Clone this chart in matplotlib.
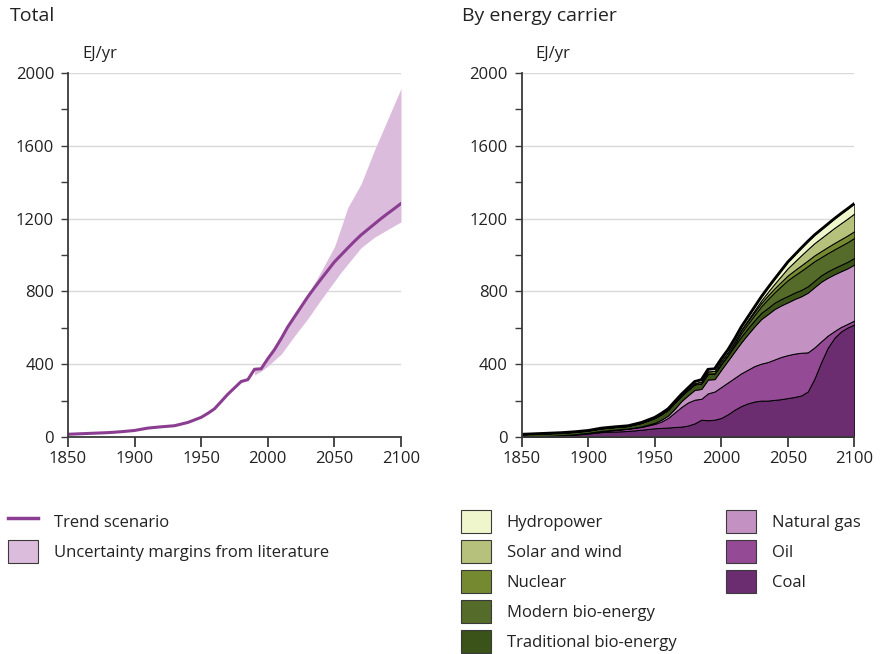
import numpy as np
import matplotlib.pyplot as plt
from matplotlib.patches import Patch
from matplotlib.lines import Line2D

plt.rcParams['font.family'] = ['Open Sans', 'DejaVu Sans']

# data (EJ/yr)
years = [1850, 1860, 1870, 1880, 1890, 1900, 1910, 1920, 1930, 1940] + list(range(1950, 2101, 5))

coal = [2, 4, 6, 9, 13, 19, 27, 30, 33, 40,
        48, 50, 52, 55, 57, 63, 75, 95, 92, 95, 105, 125, 150, 170, 185, 195, 200, 200, 204, 208,
        214, 220, 228, 250, 320, 410, 490, 545, 580, 602, 618]
oil = [0, 0, 0, 1, 2, 3, 5, 8, 12, 15,
       24, 35, 53, 80, 108, 127, 130, 115, 148, 155, 170, 175, 175, 180, 185, 195, 203, 212, 222, 232,
       236, 238, 235, 215, 172, 115, 67, 37, 25, 20, 22]
gas = [0, 0, 0, 0, 0, 1, 1, 2, 2, 3,
       6, 10, 13, 20, 32, 39, 54, 54, 76, 68, 95, 120, 145, 170, 195, 218, 245, 263, 277, 283,
       290, 300, 310, 328, 331, 328, 318, 312, 306, 305, 308]
trad_bio = [13, 14, 15, 14, 14, 13, 15, 15, 14, 20,
            27, 31, 32, 34, 30, 30, 30, 30, 31, 30, 30, 29, 31, 32, 33, 33, 34, 34, 35, 35,
            35, 35, 35, 35, 35, 35, 35, 35, 35, 36, 36]
modern_bio = [0] * 10 + [0, 0, 0, 0, 0, 0, 1, 1, 2, 2, 4, 3, 9, 20, 24, 30, 36, 49, 57, 71,
                         87, 95, 105, 111, 108, 100, 100, 102, 105, 108, 110]
nuclear = [0] * 10 + [0, 0, 0, 0, 1, 3, 6, 10, 12, 13, 14, 14, 14, 14, 15, 16, 18, 20, 22, 24,
                      26, 28, 30, 31, 32, 33, 34, 35, 36, 37, 37]
solar_wind = [0] * 20 + [0, 1, 2, 4, 7, 10, 14, 19, 25, 32, 40, 47, 55, 62, 67, 72, 77, 83, 88, 93, 97]
hydro = [0, 0, 0, 0, 0, 0, 1, 1, 1, 2,
         3, 4, 5, 6, 7, 8, 9, 10, 11, 12, 12, 13, 14, 15, 16, 18, 20, 23, 26, 30,
         34, 37, 40, 43, 45, 47, 49, 51, 53, 54, 55]

band_years = [1990, 1995, 2000, 2010, 2020, 2030, 2040, 2050, 2055, 2060, 2070, 2080, 2090, 2100]
band_low = [340, 362, 390, 455, 555, 650, 755, 855, 905, 950, 1040, 1097, 1140, 1182]
band_high = [372, 378, 432, 540, 660, 780, 910, 1045, 1150, 1260, 1390, 1575, 1745, 1915]

labels = ['Coal', 'Oil', 'Natural gas', 'Traditional bio-energy', 'Modern bio-energy',
          'Nuclear', 'Solar and wind', 'Hydropower']
colors = ['#6b2d70', '#944a94', '#c392c3', '#3b5219', '#546b29', '#758a30', '#b6c27b', '#eff6cc']

series = [coal, oil, gas, trad_bio, modern_bio, nuclear, solar_wind, hydro]
total = np.sum(np.array(series), axis=0)

trend_col = '#8b3e91'
band_col = '#dcbcdd'
spine_col = '#3a3a3a'
text_col = '#222222'

fig = plt.figure(figsize=(8.82, 6.54), dpi=100)
W, H = 882, 654
ax1 = fig.add_axes([68 / W, 1 - 437 / H, 333 / W, 364 / H])
ax2 = fig.add_axes([521.7 / W, 1 - 437 / H, 332.6 / W, 364 / H])


def style(ax):
    ax.set_xlim(1850, 2100)
    ax.set_ylim(0, 2000)
    ax.set_xticks(range(1850, 2101, 50))
    ax.set_yticks(range(0, 2001, 400))
    ax.set_yticks(range(200, 2000, 400), minor=True)
    for s in ['top', 'right']:
        ax.spines[s].set_visible(False)
    for s in ['left', 'bottom']:
        ax.spines[s].set_color(spine_col)
        ax.spines[s].set_linewidth(1.3)
    ax.tick_params(axis='x', direction='out', length=7, width=1.3, color=spine_col,
                   labelsize=12, pad=3, labelcolor=text_col)
    ax.tick_params(axis='y', which='both', direction='out', length=5, width=1.0, color=spine_col,
                   labelsize=12, pad=5, labelcolor=text_col)
    for y in range(400, 2001, 400):
        ax.axhline(y, color='#d9d9d9', lw=1.0, zorder=0)
    ax.text(0.042, 1.03, 'EJ/yr', transform=ax.transAxes, fontsize=12, color=text_col,
            ha='left', va='bottom')


style(ax1)
style(ax2)

# left: total trend with uncertainty
ax1.fill_between(band_years, band_low, band_high, color=band_col, lw=0, zorder=1)
ax1.plot(years, total, color=trend_col, lw=2.2, zorder=2)

# right: stacked by carrier
ax2.stackplot(years, series, colors=colors, edgecolor='black', linewidth=0.7, zorder=1)
ax2.plot(years, total, color='black', lw=2.0, zorder=2)

fig.text(10 / W, 1 - 16 / H, 'Total', fontsize=14, va='center', ha='left', color=text_col)
fig.text(462 / W, 1 - 16 / H, 'By energy carrier', fontsize=14, va='center', ha='left',
         color=text_col)

leg_kw = dict(frameon=False, fontsize=12, handlelength=1.8, handleheight=1.73,
              labelspacing=0.43, handletextpad=0.95, borderpad=0, borderaxespad=0,
              labelcolor=text_col)

h_left = [Line2D([0], [0], color=trend_col, lw=2.5),
          Patch(facecolor=band_col, edgecolor=spine_col, lw=0.8)]
fig.legend(h_left, ['Trend scenario', 'Uncertainty margins from literature'],
           loc='upper left', bbox_to_anchor=(8 / W, 1 - 510 / H), **leg_kw)

green_idx = [7, 6, 5, 4, 3]
h_green = [Patch(facecolor=colors[i], edgecolor=spine_col, lw=0.8) for i in green_idx]
fig.legend(h_green, [labels[i] for i in green_idx], loc='upper left',
           bbox_to_anchor=(461 / W, 1 - 510 / H), **leg_kw)

purple_idx = [2, 1, 0]
h_purple = [Patch(facecolor=colors[i], edgecolor=spine_col, lw=0.8) for i in purple_idx]
fig.legend(h_purple, [labels[i] for i in purple_idx], loc='upper left',
           bbox_to_anchor=(726 / W, 1 - 510 / H), **leg_kw)

fig.savefig('out.png', dpi=100)
